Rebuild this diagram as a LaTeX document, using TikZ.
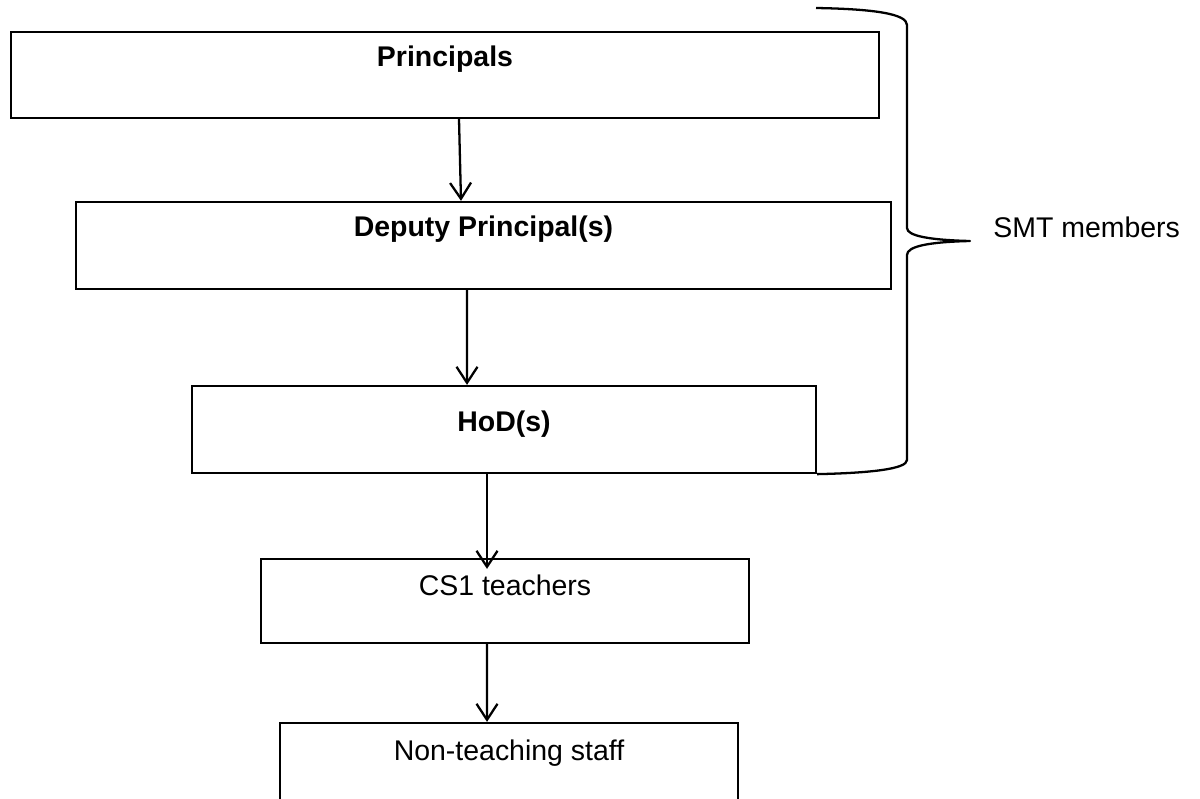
\documentclass[tikz,border=0pt]{standalone}
\usepackage{fontspec}
\setmainfont{Liberation Sans}
\usetikzlibrary{arrows.meta}
\begin{document}
\begin{tikzpicture}[x=0.02cm,y=-0.02cm,
  box/.style={draw, line width=1.3pt, rectangle, inner sep=0pt},
  lab/.style={font=\fontsize{16.2}{19}\selectfont, anchor=base, inner sep=0pt},
  arr/.style={line width=1.3pt, -{Straight Barb[length=0.32cm,width=0.42cm,line width=1.3pt]}},
  bracepath/.style={line width=1.3pt, line join=round}]
\useasboundingbox (0,0) rectangle (1200,798);
\clip (0,0) rectangle (1200,798);
% boxes
\node[box, minimum width=17.36cm, minimum height=1.72cm] (p) at (445,75) {};
\node[box, minimum width=16.30cm, minimum height=1.74cm] (d) at (483.5,245.5) {};
\node[box, minimum width=12.48cm, minimum height=1.74cm] (h) at (504,429.5) {};
\node[box, minimum width=9.76cm, minimum height=1.68cm] (c) at (505,601) {};
\node[box, minimum width=9.16cm, minimum height=1.72cm] (n) at (509,766) {};
% texts
\node[lab, font=\fontsize{16.2}{19}\selectfont\bfseries] (pt) at ([yshift=-0.72cm]p.north) {Principals};
\node[lab, font=\fontsize{16.2}{19}\selectfont\bfseries] (dt) at ([yshift=-0.72cm]d.north) {Deputy Principal(s)};
\node[lab, font=\fontsize{16.2}{19}\selectfont\bfseries] (ht) at ([yshift=-0.94cm]h.north) {HoD(s)};
\node[lab] (ct) at ([yshift=-0.76cm]c.north) {CS1 teachers};
\node[lab] (nt) at ([yshift=-0.78cm]n.north) {Non-teaching staff};
% arrows
\draw[arr] ([xshift=0.28cm]p.south) -- ([xshift=-0.45cm]d.north);
\draw[arr] ([xshift=-0.33cm]d.south) -- ([xshift=-0.74cm]h.north);
\draw[arr, shorten >=-0.22cm] ([xshift=-0.34cm]h.south) -- ([xshift=-0.36cm]c.north);
\draw[arr] ([xshift=-0.36cm]c.south) -- ([xshift=-0.44cm]n.north);
% brace
\coordinate (bs) at (816,8);
\coordinate (tip) at (970,241);
\draw[bracepath] (bs) .. controls (875,9) and (907,14) .. (907,25)
  -- (907,228) .. controls (907,236) and (930,240) .. (tip)
  .. controls (930,242) and (907,246) .. (907,255)
  -- (907,460) .. controls (907,469) and (870,473) .. (h.south east);
\node[lab, anchor=base west] (smt) at (993,237) {SMT members};
\end{tikzpicture}
\end{document}
